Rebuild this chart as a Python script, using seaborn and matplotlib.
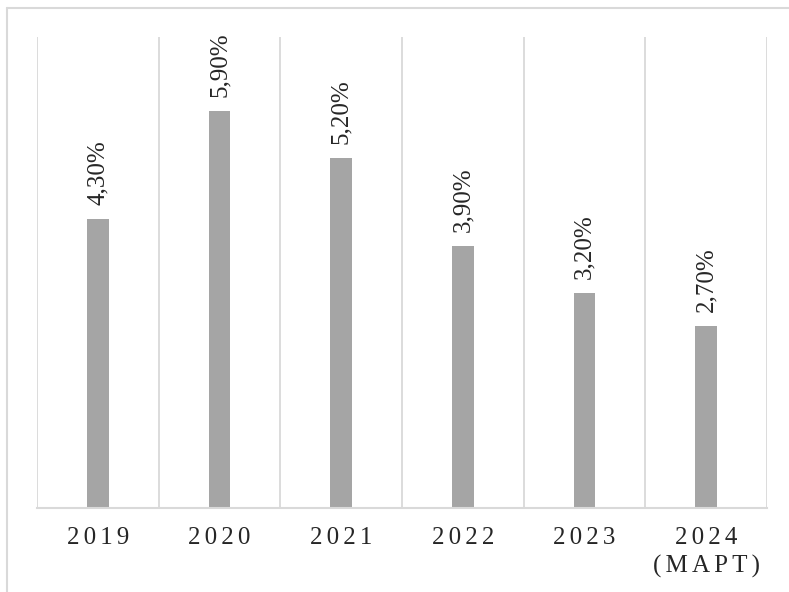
import matplotlib.pyplot as plt
from matplotlib.lines import Line2D
import seaborn as sns
import pandas as pd

years = ["2019", "2020", "2021", "2022", "2023", "2024"]
tick_labels = ["2\u20060\u20061\u20069", "2\u20060\u20062\u20060", "2\u20060\u20062\u20061",
               "2\u20060\u20062\u20062", "2\u20060\u20062\u20063",
               "2\u20060\u20062\u20064\n(\u2006М\u2006А\u2006Р\u2006Т\u2006)"]
rates = [4.3, 5.9, 5.2, 3.9, 3.2, 2.7]
rate_labels = ["4,30%", "5,90%", "5,20%", "3,90%", "3,20%", "2,70%"]

if __name__ == "__main__":
    sns.set_style("white")
    plt.rcParams['font.family'] = ['Liberation Serif', 'DejaVu Serif']

    df = pd.DataFrame({"year": years, "rate": rates})

    fig = plt.figure(figsize=(7.89, 5.92), dpi=100)
    ax = fig.add_axes([37 / 789, 1 - 508 / 592, 730 / 789, 471 / 592])

    sns.barplot(data=df, x="year", y="rate", color="#a5a5a5", saturation=1,
                width=0.18, linewidth=0, ax=ax)

    ax.set_ylim(0, 7)
    ax.set_xlim(-0.5, len(years) - 0.5)
    ax.set_yticks([])
    ax.set_xlabel("")
    ax.set_ylabel("")

    # vertical gridlines between categories
    ax.set_xticks([i - 0.5 for i in range(len(years) + 1)], minor=True)
    ax.grid(True, which="minor", axis="x", color="#d9d9d9", linewidth=1.3)
    ax.tick_params(which="both", length=0)
    ax.set_xticks(range(len(years)))
    ax.set_xticklabels(tick_labels, fontsize=18, linespacing=1.3)
    ax.tick_params(axis="x", pad=14)

    for s in ["top", "left", "right"]:
        ax.spines[s].set_visible(False)
    ax.spines["bottom"].set_color("#d9d9d9")
    ax.spines["bottom"].set_linewidth(1.5)

    for p, lab in zip(ax.patches, rate_labels):
        ax.annotate(lab, (p.get_x() + p.get_width() / 2, p.get_height()),
                    xytext=(0, 10), textcoords="offset points",
                    rotation=90, ha="center", va="bottom", fontsize=18)

    # outer chart border (top and left visible)
    fig.add_artist(Line2D([7 / 789, 7 / 789], [0, 1 - 8 / 592],
                          transform=fig.transFigure, color="#d9d9d9", linewidth=1.5))
    fig.add_artist(Line2D([7 / 789, 1], [1 - 8 / 592, 1 - 8 / 592],
                          transform=fig.transFigure, color="#d9d9d9", linewidth=1.5))

    fig.savefig("out.png", dpi=100)
